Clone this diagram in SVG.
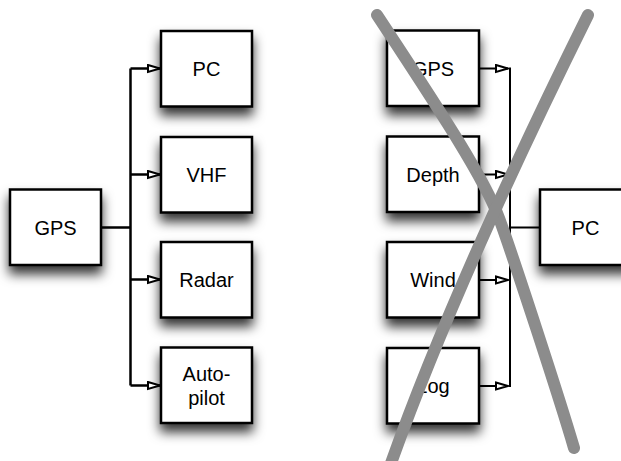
<svg xmlns="http://www.w3.org/2000/svg" width="621" height="461" viewBox="0 0 621 461">
<defs>
<filter id="sh" x="-40%" y="-40%" width="180%" height="200%">
<feDropShadow dx="0" dy="8" stdDeviation="6" flood-color="#000" flood-opacity="0.8"/>
</filter>
<marker id="arr" viewBox="0 0 14 10" refX="13" refY="5" markerWidth="14" markerHeight="10" markerUnits="userSpaceOnUse" orient="auto">
<path d="M1,1.5 L13,5 L1,8.5 Z" fill="#fff" stroke="#000" stroke-width="2" stroke-linejoin="miter"/>
</marker>
</defs>
<style>
.box{fill:#fff;stroke:#000;stroke-width:2.5;filter:url(#sh)}
.t{font-family:"Liberation Sans",Arial,sans-serif;font-size:20px;text-anchor:middle;fill:#000}
.cl{fill:none;stroke:#000;stroke-width:2.5}
.cr{fill:none;stroke:#000;stroke-width:2}
.x{fill:none;stroke:#8c8c8c;stroke-width:12;stroke-linecap:round}
</style>
<rect width="621" height="461" fill="#fff"/>
<g id="n-gps-l"><rect class="box" x="10" y="189.5" width="91" height="75.5"/><text class="t" x="55.5" y="234.5">GPS</text></g>
<g id="n-pc-l"><rect class="box" x="161" y="31" width="91" height="75.5"/><text class="t" x="206.5" y="76">PC</text></g>
<g id="n-vhf"><rect class="box" x="161" y="137" width="91" height="75.5"/><text class="t" x="206.5" y="182">VHF</text></g>
<g id="n-radar"><rect class="box" x="161" y="242" width="91" height="75.5"/><text class="t" x="206.5" y="287">Radar</text></g>
<g id="n-autopilot"><rect class="box" x="161" y="347.5" width="91" height="75.5"/><text class="t" x="206.5" y="381">Auto-</text><text class="t" x="206.5" y="405">pilot</text></g>
<g id="n-gps-r"><rect class="box" x="387" y="30.5" width="92" height="75.5"/><text class="t" x="433" y="76">GPS</text></g>
<g id="n-depth"><rect class="box" x="387" y="136.5" width="92" height="75.5"/><text class="t" x="433" y="182">Depth</text></g>
<g id="n-wind"><rect class="box" x="387" y="242" width="92" height="75.5"/><text class="t" x="433" y="287">Wind</text></g>
<g id="n-log"><rect class="box" x="387" y="348" width="92" height="75.5"/><text class="t" x="433" y="393">Log</text></g>
<g id="n-pc-r"><rect class="box" x="540" y="189.5" width="92" height="75.5"/><text class="t" x="585.5" y="234.5">PC</text></g>
<g id="connectors">
<path class="cl" d="M101,227.5 H130.5"/>
<path class="cl" d="M130.5,68.5 V385.5"/>
<path class="cl" d="M130.5,68.5 H160" marker-end="url(#arr)"/>
<path class="cl" d="M130.5,174.5 H160" marker-end="url(#arr)"/>
<path class="cl" d="M130.5,279.5 H160" marker-end="url(#arr)"/>
<path class="cl" d="M130.5,385.5 H160" marker-end="url(#arr)"/>
<path class="cr" d="M479,68.5 H508" marker-end="url(#arr)"/>
<path class="cr" d="M479,174.5 H508" marker-end="url(#arr)"/>
<path class="cr" d="M479,280 H508" marker-end="url(#arr)"/>
<path class="cr" d="M479,386 H508" marker-end="url(#arr)"/>
<path class="cr" d="M510,67.5 V387"/>
<path class="cr" d="M510,227.5 H540"/>
</g>
<g id="cross">
<path class="x" d="M377,15 C445,118 485,180 499,218 S560,400 574,448"/>
<path class="x" d="M588,15 Q455,283 390,466"/>
</g>
</svg>
